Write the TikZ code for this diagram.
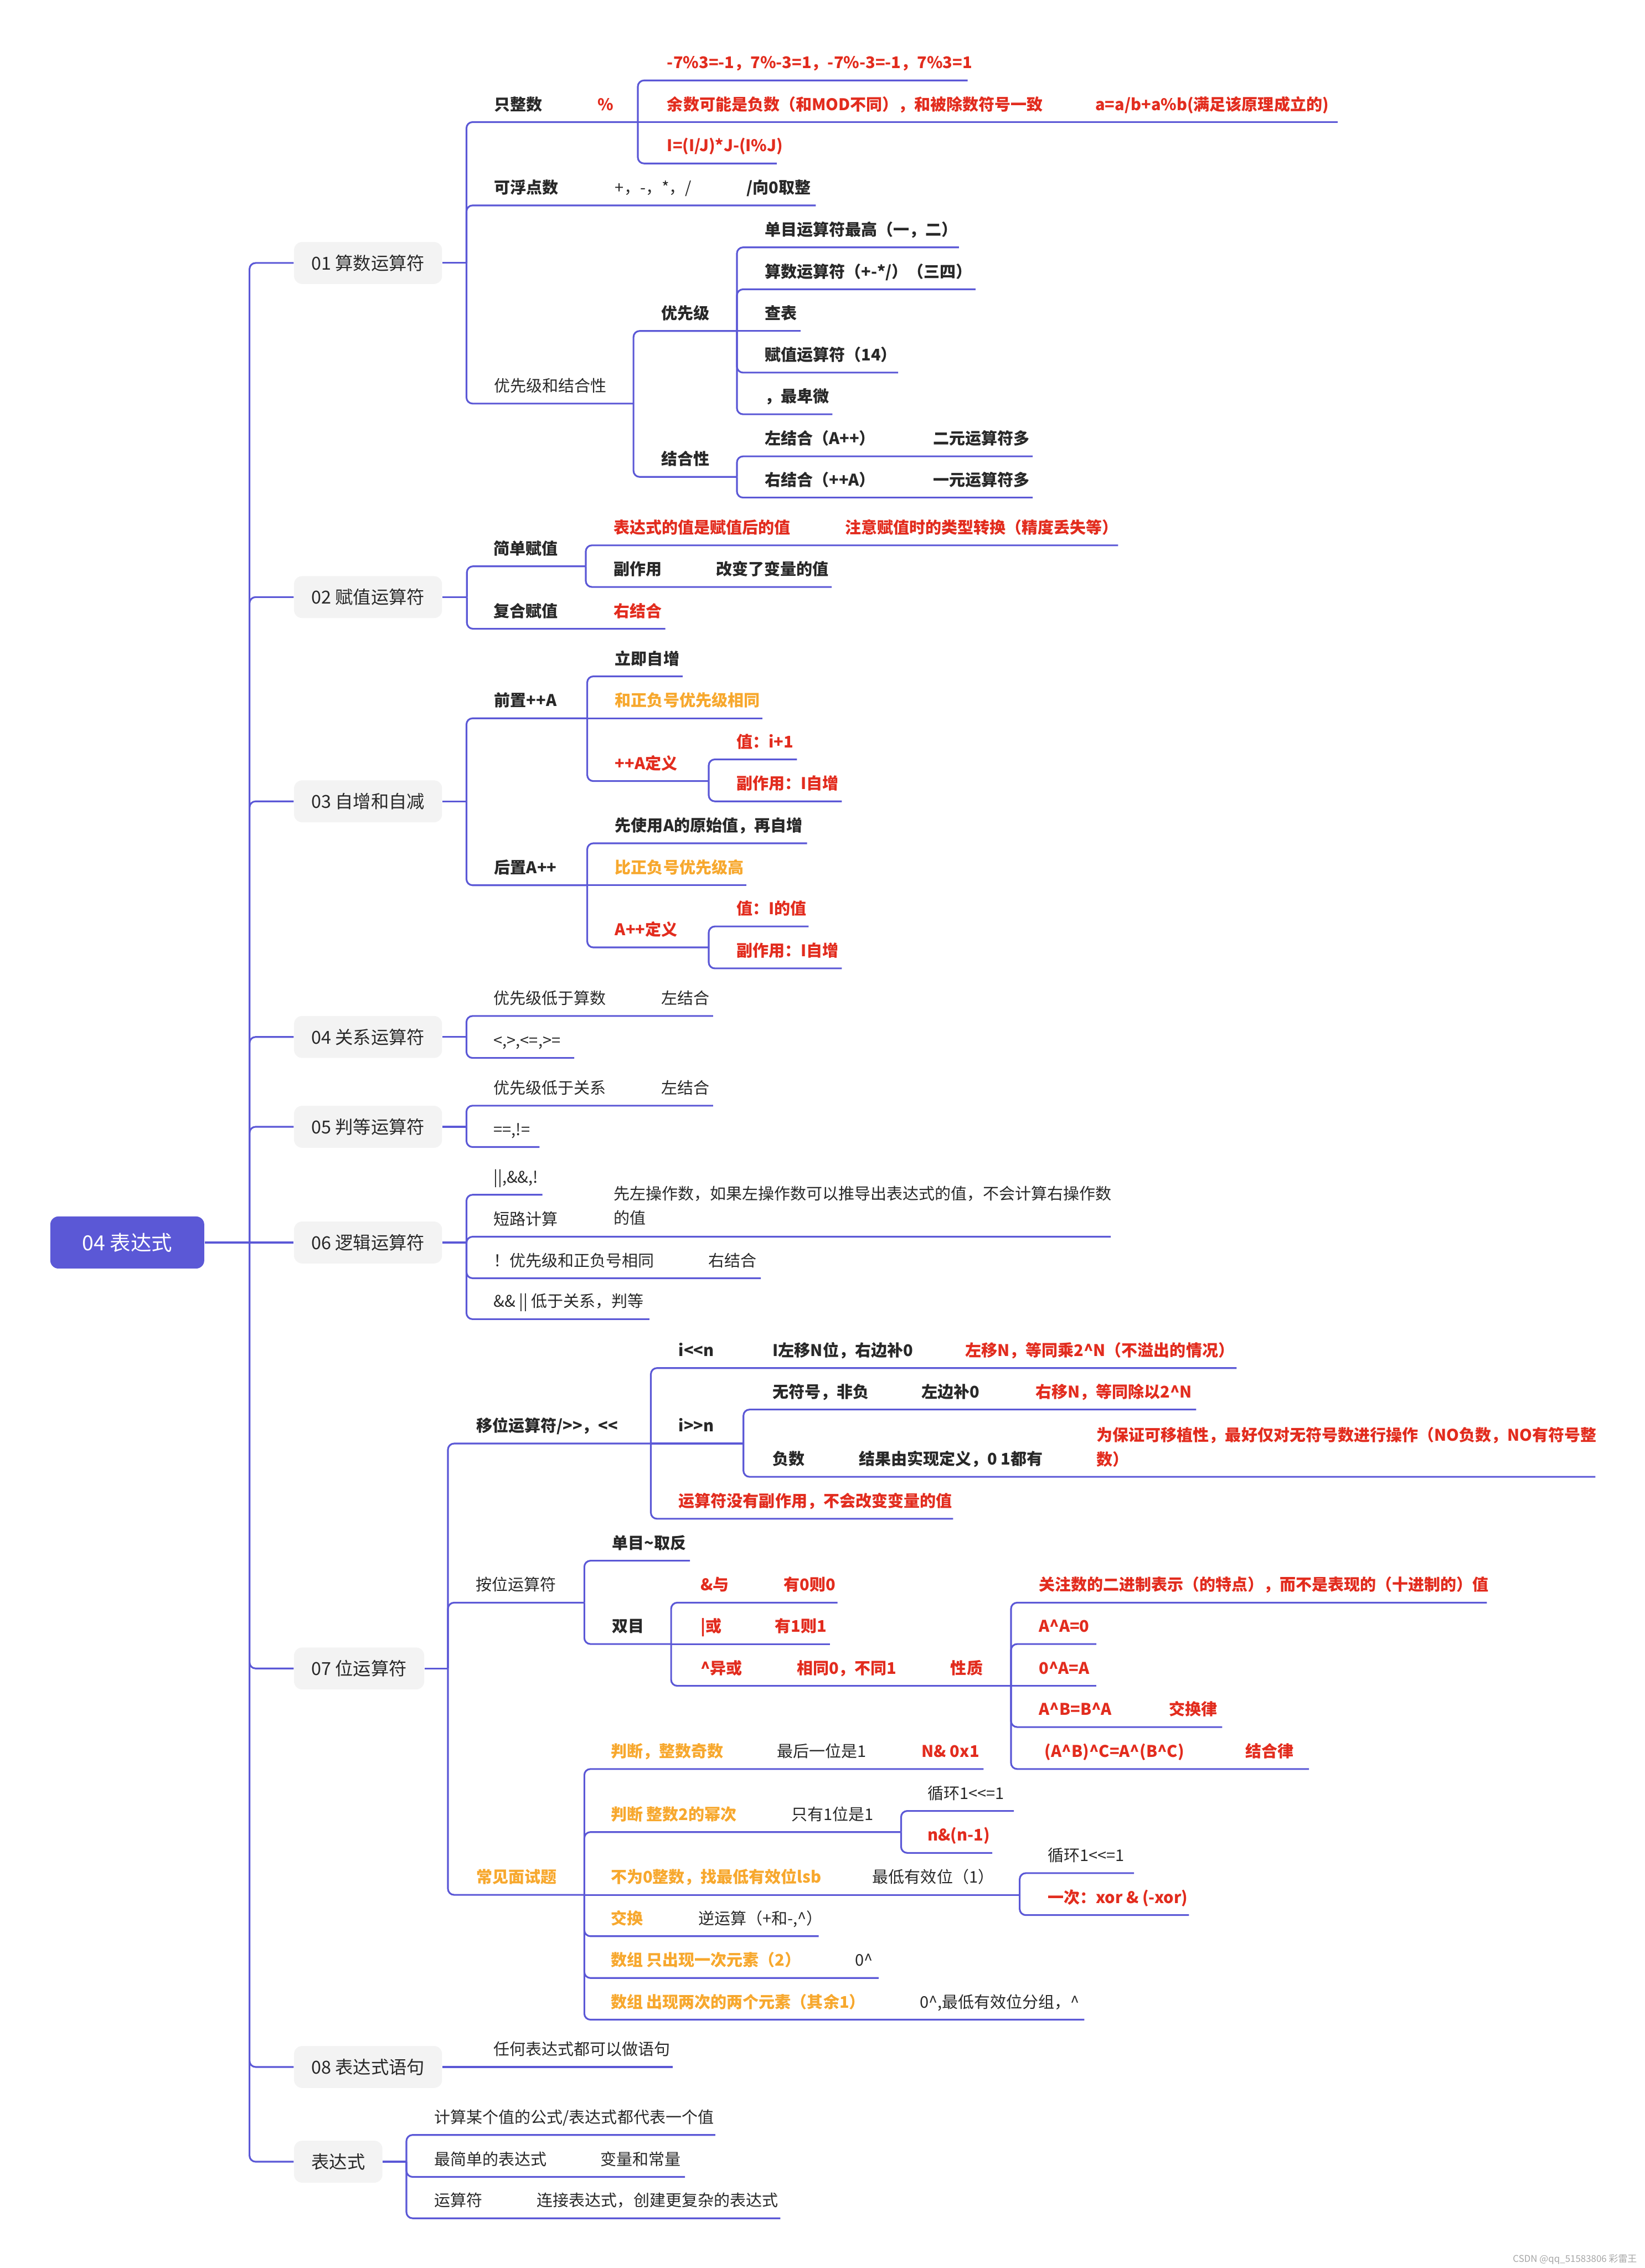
\documentclass[tikz,border=0pt]{standalone}
\usepackage{fontspec}
\setmainfont{Noto Sans CJK SC}[Ligatures=TeXOff]
\definecolor{LinkBlue}{RGB}{91,88,214}
\definecolor{HotRed}{RGB}{226,44,30}
\definecolor{WarmOrange}{RGB}{247,168,46}
\definecolor{BoxGray}{RGB}{243,243,243}
\definecolor{InkGray}{RGB}{40,40,40}
\def\fs{\fontsize{7.9}{12}\selectfont}
\newcommand{\xr}{\textasciicircum}
% row text + end of its underline
\newcommand{\branch}[6][]{\node[tx,#1] (#2) at (#3,#4-8.2) {#6}; \coordinate (#2-e) at (#5,#4);}
\newcommand{\aside}[5][]{\node[tx,#1] (#2) at (#3,#4-8.2) {#5};}
\newcommand{\fork}[2]{\foreach \kid in {#2} {\draw[link] (#1) |- (\kid-e);}}

\begin{document}
\begin{tikzpicture}[x=0.025cm, y=-0.025cm, font=\fs,
    link/.style={LinkBlue, line width=0.85pt, rounded corners=3pt},
    tx/.style={anchor=base west, inner sep=0pt, text=InkGray},
    kw/.style={font=\fs\bfseries},
    hot/.style={font=\fs\bfseries, text=HotRed},
    warm/.style={font=\fs\bfseries, text=WarmOrange},
    sec/.style={anchor=west, fill=BoxGray, rounded corners=4pt, minimum height=0.725cm,
        inner xsep=0.3cm, text=InkGray, font=\fontsize{8.8}{10}\selectfont},
    rootbox/.style={anchor=west, fill=LinkBlue, rounded corners=4pt, minimum width=2.66cm,
        minimum height=0.9cm, text=white, font=\fontsize{10.2}{12}\selectfont}]

\useasboundingbox (0,0) rectangle (1137,1568);

% tronco
\node[rootbox] (root) at (34.5,859) {04 表达式};
\node[sec] (s01) at (203,181.8) {01 算数运算符};
\node[sec] (s02) at (203,412.8) {02 赋值运算符};
\node[sec] (s03) at (203,554) {03 自增和自减};
\node[sec] (s04) at (203,716.9) {04 关系运算符};
\node[sec] (s05) at (203,779) {05 判等运算符};
\node[sec] (s06) at (203,859) {06 逻辑运算符};
\node[sec] (s07) at (203,1153.5) {07 位运算符};
\node[sec] (s08) at (203,1429) {08 表达式语句};
\node[sec] (s09) at (203,1494.5) {表达式};
\coordinate (trunk) at (172.5,859);
\draw[link] (root.east) -- (s06.west);
\foreach \sid in {s01,s02,s03,s04,s05,s07,s08,s09}
    \draw[link] (trunk) |- (\sid.west);

% 01
\branch[kw]{intonly}{341.5}{84.4}{441}{只整数}
\aside[hot]{pct}{413}{84.4}{\%}
\branch[hot]{modex}{461}{55.6}{669}{-7\%3=-1，7\%-3=1，-7\%-3=-1，7\%3=1}
\branch[hot]{modsign}{461}{84.4}{925}{余数可能是负数（和MOD不同），和被除数符号一致}
\aside[hot]{modrule}{757}{84.4}{a=a/b+a\%b(满足该原理成立的)}
\branch[hot]{modid}{461}{113}{537}{I=(I/J)*J-(I\%J)}
\branch[kw]{floatok}{341.5}{142}{564}{可浮点数}
\aside{floatops}{425}{142}{+，-，*，/}
\aside[kw]{floattrunc}{516}{142}{/向0取整}
\branch{precassoc}{341.5}{279}{438}{优先级和结合性}
\branch[kw]{prec}{457}{228.8}{509.5}{优先级}
\branch[kw]{unaryhi}{528.5}{171}{663}{单目运算符最高（一，二）}
\branch[kw]{arith}{528.5}{200}{674.5}{算数运算符（+-*/）（三四）}
\branch[kw]{lookup}{528.5}{228.8}{553.6}{查表}
\branch[kw]{assignlo}{528.5}{257.6}{621}{赋值运算符（14）}
\branch[kw]{commalo}{528.5}{286.4}{575.5}{，最卑微}
\branch[kw]{assoc}{457}{329.7}{509.5}{结合性}
\branch[kw]{leftassoc}{528.5}{315.5}{714}{左结合（A++）}
\aside[kw]{binmany}{645}{315.5}{二元运算符多}
\branch[kw]{rightassoc}{528.5}{344}{714}{右结合（++A）}
\aside[kw]{unimany}{645}{344}{一元运算符多}

\coordinate (j01) at (322.5,181.8);
\draw[link] (s01.east) -- (j01);
\fork{j01}{intonly,floatok,precassoc}
\coordinate (jpct) at (441,84.4);
\fork{jpct}{modex,modid}
\draw[link] (jpct) -- (modsign-e);
\coordinate (jprec) at (438,279);
\fork{jprec}{prec,assoc}
\coordinate (jprec2) at (509.5,228.8);
\fork{jprec2}{unaryhi,arith,assignlo,commalo}
\draw[link] (jprec2) -- (lookup-e);
\coordinate (jassoc) at (509.5,329.7);
\fork{jassoc}{leftassoc,rightassoc}

% 02
\branch[kw]{simpleasg}{341}{391.5}{405}{简单赋值}
\branch[hot]{asgval}{424}{377}{773}{表达式的值是赋值后的值}
\aside[hot]{asgcast}{584}{377}{注意赋值时的类型转换（精度丢失等）}
\branch[kw]{asgside}{424}{405.8}{575}{副作用}
\aside[kw]{asgchange}{495}{405.8}{改变了变量的值}
\branch[kw]{compasg}{341}{434.7}{460}{复合赋值}
\aside[hot]{comprassoc}{424}{434.7}{右结合}

\coordinate (j02) at (322.8,412.8);
\draw[link] (s02.east) -- (j02);
\fork{j02}{simpleasg,compasg}
\coordinate (jsimple) at (405,391.5);
\fork{jsimple}{asgval,asgside}

% 03
\branch[kw]{preinc}{341.5}{496.6}{406}{前置++A}
\branch[kw]{preimm}{425}{467.6}{472}{立即自增}
\branch[warm]{presign}{425}{496.6}{527}{和正负号优先级相同}
\branch[hot]{predef}{425}{540}{490}{++A定义}
\branch[hot]{preval}{509}{525}{551}{值：i+1}
\branch[hot]{preside}{509}{554}{582}{副作用：I自增}
\branch[kw]{postinc}{341.5}{612}{406}{后置A++}
\branch[kw]{postorig}{425}{583}{558}{先使用A的原始值，再自增}
\branch[warm]{postsign}{425}{612}{516}{比正负号优先级高}
\branch[hot]{postdef}{425}{655}{490}{A++定义}
\branch[hot]{postval}{509}{640.5}{559}{值：I的值}
\branch[hot]{postside}{509}{669.5}{582}{副作用：I自增}

\coordinate (j03) at (322.5,554);
\draw[link] (s03.east) -- (j03);
\fork{j03}{preinc,postinc}
\coordinate (jpre) at (406,496.6);
\fork{jpre}{preimm,predef}
\draw[link] (jpre) -- (presign-e);
\coordinate (jpredef) at (490,540);
\fork{jpredef}{preval,preside}
\coordinate (jpost) at (406,612);
\fork{jpost}{postorig,postdef}
\draw[link] (jpost) -- (postsign-e);
\coordinate (jpostdef) at (490,655);
\fork{jpostdef}{postval,postside}

% 04, 05
\branch{relprec}{341}{702.4}{493}{优先级低于算数}
\aside{relassoc}{457}{702.4}{左结合}
\branch{relops}{341}{731.4}{397}{<,>,<=,>=}
\coordinate (j04) at (322.5,716.9);
\draw[link] (s04.east) -- (j04);
\fork{j04}{relprec,relops}

\branch{eqprec}{341}{764.4}{493}{优先级低于关系}
\aside{eqassoc}{457}{764.4}{左结合}
\branch{eqops}{341}{793}{373}{==,!=}
\coordinate (j05) at (322.5,779);
\draw[link] (s05.east) -- (j05);
\fork{j05}{eqprec,eqops}

% 06
\branch{logops}{341}{826}{375}{||,\&\&,!}
\branch{shortc}{341}{855}{768}{短路计算}
\node[tx, anchor=south west, align=left] (shortcd) at (424,855-7.5)
    {先左操作数，如果左操作数可以推导出表达式的值，不会计算右操作数\\的值};
\branch{notprec}{341}{883.7}{526}{！优先级和正负号相同}
\aside{notassoc}{489.5}{883.7}{右结合}
\branch{andor}{341}{912}{449}{\&\& || 低于关系，判等}
\coordinate (j06) at (322.5,859);
\draw[link] (s06.east) -- (j06);
\fork{j06}{logops,shortc,notprec,andor}

% 07
\branch[kw]{shift}{329}{998}{450}{移位运算符/>>，<<}
\branch[kw]{shl}{469}{945.8}{855}{i<<n}
\aside[kw]{shldesc}{534}{945.8}{I左移N位，右边补0}
\aside[hot]{shlnote}{667}{945.8}{左移N，等同乘2\xr N（不溢出的情况）}
\branch[kw]{shr}{469}{998}{514}{i>>n}
\branch[kw]{shru}{534}{974.5}{827}{无符号，非负}
\aside[kw]{shrufill}{637}{974.5}{左边补0}
\aside[hot]{shrunote}{715.7}{974.5}{右移N，等同除以2\xr N}
\branch[kw]{shrn}{534}{1021}{1103}{负数}
\aside[kw]{shrnimpl}{593.6}{1021}{结果由实现定义，0 1都有}
\node[tx, hot, anchor=south west, align=left] (shrnnote) at (758,1021-6.5)
    {为保证可移植性，最好仅对无符号数进行操作（NO负数，NO有符号整\\数）};
\branch[hot]{shnoside}{469}{1050}{659}{运算符没有副作用，不会改变变量的值}

\branch{bitw}{328.7}{1108}{404}{按位运算符}
\branch[kw]{bnot}{423}{1079}{477}{单目\textasciitilde 取反}
\branch[kw]{bbin}{423}{1136.6}{464}{双目}
\branch[hot]{band}{484}{1108}{579}{\&与}
\aside[hot]{bandr}{541.6}{1108}{有0则0}
\branch[hot]{bor}{484}{1136.6}{574}{|或}
\aside[hot]{borr}{535.6}{1136.6}{有1则1}
\branch[hot]{bxor}{484}{1165.5}{699}{\xr 异或}
\aside[hot]{bxorr}{550.6}{1165.5}{相同0，不同1}
\aside[hot]{bxorp}{657}{1165.5}{性质}
\branch[hot]{xbin}{718}{1108}{1028}{关注数的二进制表示（的特点），而不是表现的（十进制的）值}
\branch[hot]{xself}{718}{1136.6}{758}{A\xr A=0}
\branch[hot]{xzero}{718}{1165.5}{758}{0\xr A=A}
\branch[hot]{xcomm}{718}{1194}{845}{A\xr B=B\xr A}
\aside[hot]{xcommr}{808}{1194}{交换律}
\branch[hot]{xassoc}{722}{1223}{905}{(A\xr B)\xr C=A\xr (B\xr C)}
\aside[hot]{xassocr}{861}{1223}{结合律}

\branch[warm]{interview}{329}{1310}{404}{常见面试题}
\branch[warm]{odd}{422}{1223}{680}{判断，整数奇数}
\aside{oddr}{537}{1223}{最后一位是1}
\aside[hot]{oddx}{637}{1223}{N\& 0x1}
\branch[warm]{pow2}{422}{1266.6}{623}{判断 整数2的幂次}
\aside{pow2r}{547}{1266.6}{只有1位是1}
\branch{pow2loop}{641}{1252}{701}{循环1<<=1}
\branch[hot]{pow2and}{641}{1281}{686}{n\&(n-1)}
\branch[warm]{lsb}{422}{1310}{705}{不为0整数，找最低有效位lsb}
\aside{lsbr}{603}{1310}{最低有效位（1）}
\branch{lsbloop}{724}{1295}{784}{循环1<<=1}
\branch[hot]{lsbonce}{724}{1324}{822}{一次：xor \& (-xor)}
\branch[warm]{swap}{422}{1338.6}{566}{交换}
\aside{swapr}{482.6}{1338.6}{逆运算（+和-,\xr）}
\branch[warm]{once}{422}{1367.5}{607.5}{数组 只出现一次元素（2）}
\aside{oncer}{591}{1367.5}{0\xr}
\branch[warm]{twice}{422}{1396.3}{749.7}{数组 出现两次的两个元素（其余1）}
\aside{twicer}{635.7}{1396.3}{0\xr,最低有效位分组，\xr}

\coordinate (j07) at (309.7,1153.5);
\draw[link] (s07.east) -- (j07);
\fork{j07}{shift,bitw,interview}
\coordinate (jshift) at (450,998);
\fork{jshift}{shl,shnoside}
\draw[link] (jshift) -- (shr-e);
\coordinate (jshr) at (514,998);
\fork{jshr}{shru,shrn}
\coordinate (jbitw) at (404,1108);
\fork{jbitw}{bnot,bbin}
\coordinate (jbin) at (464,1136.6);
\fork{jbin}{band,bxor}
\draw[link] (jbin) -- (bor-e);
\coordinate (jxor) at (699,1165.5);
\fork{jxor}{xbin,xself,xcomm,xassoc}
\draw[link] (jxor) -- (xzero-e);
\coordinate (jint) at (404,1310);
\fork{jint}{odd,pow2,swap,once,twice}
\draw[link] (jint) -- (lsb-e);
\coordinate (jpow) at (623,1266.6);
\fork{jpow}{pow2loop,pow2and}
\coordinate (jlsb) at (705,1310);
\fork{jlsb}{lsbloop,lsbonce}

% 08, expr
\branch{stmt}{341}{1429}{465}{任何表达式都可以做语句}
\draw[link] (s08.east) -- (stmt-e);

\branch{exprval}{300}{1476}{494.5}{计算某个值的公式/表达式都代表一个值}
\branch{exprsimple}{300}{1505}{473.6}{最简单的表达式}
\aside{exprsimpler}{415}{1505}{变量和常量}
\branch{exprop}{300}{1533.6}{539.5}{运算符}
\aside{exprconn}{371}{1533.6}{连接表达式，创建更复杂的表达式}
\coordinate (j09) at (281,1494.5);
\draw[link] (s09.east) -- (j09);
\fork{j09}{exprval,exprsimple,exprop}

\node[anchor=base east, inner sep=0pt, text=black!35, font=\fontsize{4.6}{5}\selectfont] (mark)
    at (1132,1564) {CSDN @qq\_51583806 彩雷王};

\end{tikzpicture}
\end{document}
